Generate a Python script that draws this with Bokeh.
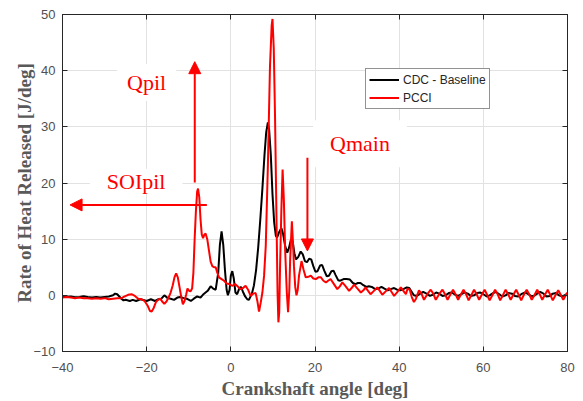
from bokeh.plotting import figure
from bokeh.models import Range1d, FixedTicker, LinearAxis, Label, Arrow, NormalHead
from bokeh.embed import file_html
from bokeh.resources import INLINE

# ---- data ----
cdc_x = [-40, -38, -37, -36, -35, -34, -33, -32, -31, -30, -29, -28, -27.5, -27, -26.5, -26, -25.5, -25,
         -24, -23.3, -22.5, -21.5, -21, -20, -19, -18, -17.2, -16.5, -15.8, -15, -14.3, -13.5, -12.7, -12,
         -11.2, -10.5, -9.5, -8.8, -8, -7.2, -6.5, -5.5, -4.8, -4.2, -3.6, -3.0, -2.6, -2.2, -1.8, -1.4,
         -1.0, -0.7, -0.3, 0.0, 0.35, 0.7, 1.1, 1.5, 2.0, 2.4, 2.9, 3.4, 3.9, 4.3, 5.0, 5.5, 6.0, 6.5,
         7.0, 7.5, 8.0, 8.4, 8.8, 9.1, 9.5, 9.9, 10.3, 10.7, 11.0, 11.5, 12.0, 12.4, 12.9, 13.4, 13.8,
         14.3, 14.7, 15.1, 15.5, 16.0, 16.6, 17.1, 17.6, 18.1, 18.6, 19.1, 19.6, 20.1, 20.6, 21.2, 21.7,
         22.2, 22.8, 23.3, 23.9, 24.4, 24.9, 25.5, 26.0, 26.8, 27.5, 28.3, 29.0, 29.6, 30.2, 30.8, 31.5,
         32.2, 32.8, 33.5, 34.3, 35.0, 35.8, 36.5, 37.3, 38.0, 38.8, 39.5, 40.3, 41.0, 41.8, 42.4, 43.0,
         43.5, 44.2, 45.0, 45.7, 46.5, 47.3, 48.0, 48.8, 49.5, 50.3, 51.0, 51.8, 52.5, 53.3, 54.0, 54.8,
         55.5, 56.3, 57.0, 57.8, 58.5, 59.3, 60.0, 60.8, 61.5, 62.3, 63.0, 63.8, 64.5, 65.3, 66.0, 66.8,
         67.5, 68.3, 69.0, 69.8, 70.5, 71.3, 72.0, 72.8, 73.5, 74.3, 75.0, 75.8, 76.5, 77.3, 78.0, 78.8,
         79.5, 80.0]
cdc_y = [-0.3, -0.2, -0.35, -0.3, -0.15, -0.3, -0.4, -0.3, -0.4, -0.3, -0.2, 0.0, 0.3, 0.2, -0.2, -0.6, -0.9, -0.8,
         -1.0, -0.8, -1.0, -0.7, -0.8, -1.0, -0.7, -1.0, -0.7, -0.6, 0.0, -0.5, -0.6, -0.8, -0.4, -0.3,
         -0.5, -0.6, -1.0, -0.6, -0.2, -0.4, 0.2, 0.8, 1.6, 1.2, 1.0, 4.0, 9.0, 11.4, 9.0, 4.5,
         1.0, 0.0, 1.0, 3.5, 4.3, 3.0, 0.5, 0.2, 1.2, 1.5, 0.6, -0.2, -0.7, -0.8, 0.3, 1.8, 4.5, 8.5,
         13.5, 19.0, 25.0, 29.0, 30.8, 29.5, 25.0, 18.0, 13.0, 10.6, 10.3, 11.3, 12.0, 11.0, 8.8, 7.6, 8.4,
         10.0, 9.5, 7.5, 6.4, 6.8, 7.8, 7.3, 6.1, 5.9, 6.5, 6.4, 5.2, 4.2, 4.3, 5.3, 5.4,
         4.4, 3.4, 3.5, 4.3, 4.4, 3.6, 2.7, 2.6, 2.9, 2.9, 2.8, 2.2, 2.0, 2.2, 2.2, 1.8,
         1.5, 1.6, 1.5, 1.1, 1.2, 1.5, 1.2, 0.9, 1.1, 1.3, 1.0, 0.9, 1.1, 1.4, 1.3, 0.6,
         0.0, -0.1, 0.3, 0.6, 0.3, -0.1, 0.1, 0.5, 0.3, -0.1, 0.0, 0.4, 0.5, 0.1, -0.1, 0.2,
         0.5, 0.3, -0.1, 0.0, 0.4, 0.5, 0.2, -0.2, 0.0, 0.4, 0.6, 0.2, -0.2, 0.0, 0.4, 0.3,
         -0.1, -0.2, 0.2, 0.5, 0.3, -0.1, -0.1, 0.3, 0.6, 0.3, -0.2, -0.1, 0.3, 0.4, 0.0, -0.2,
         0.1, 0.3]

pcci_x = [-40, -39, -38, -37, -36, -35, -34, -33, -32, -31, -30, -29, -28, -27, -26, -25.2, -24.4, -23.6,
          -22.8, -22, -21.2, -20.5, -19.8, -19.2, -18.8, -18.3, -17.8, -17.3, -16.8, -16.2, -15.8, -15.3,
          -14.8, -14.3, -13.8, -13.4, -13.0, -12.6, -12.2, -11.8, -11.4, -11.0, -10.6, -10.3, -9.9, -9.6,
          -9.2, -8.9, -8.6, -8.3, -8.0, -7.8, -7.5, -7.2, -6.9, -6.6, -6.3, -6.0, -5.6, -5.2, -4.8, -4.4,
          -4.0, -3.6, -3.2, -2.8, -2.2, -1.6, -1.0, -0.4, 0.4, 1.0, 1.6, 2.3, 2.9, 3.5, 4.1, 4.7, 5.3,
          5.9, 6.3, 6.7, 7.1, 7.5, 7.9, 8.3, 8.8, 9.3, 9.7, 9.9, 10.2, 10.5, 10.9, 11.1, 11.3, 11.5, 11.7,
          12.0, 12.3, 12.6, 12.9, 13.3, 13.6, 13.9, 14.1, 14.5, 14.8, 15.0, 15.3, 15.6, 15.9, 16.2, 16.8,
          17.3, 17.8, 18.4, 19.0, 19.6, 20.2, 20.8, 21.4, 22.0, 22.6, 23.1, 23.7, 24.5, 25.3, 25.9, 26.5,
          27.3, 28.1, 28.7, 29.3, 30.1, 30.9, 31.5, 32.0, 32.6, 33.2, 34.0, 34.8, 35.4, 36.0, 36.8, 37.6,
          38.2, 38.8, 39.6, 40.4, 41.0, 41.6, 42.0, 42.5, 43.0, 43.5, 44.0, 44.7, 45.3, 45.9, 46.7, 47.5,
          48.1, 48.7, 49.5, 50.3, 50.9, 51.5, 52.2, 52.8, 53.4, 54.0, 54.7, 55.3, 55.9, 56.5, 57.2, 57.8,
          58.4, 59.0, 59.7, 60.3, 60.9, 61.5, 62.2, 62.8, 63.4, 64.0, 64.7, 65.3, 65.9, 66.5, 67.2, 67.8,
          68.4, 69.0, 69.7, 70.3, 70.9, 71.5, 72.2, 72.8, 73.4, 74.0, 74.7, 75.3, 75.9, 76.5, 77.2, 77.8,
          78.4, 79.0, 79.6, 80.0]
pcci_y = [-0.4, -0.3, -0.4, -0.5, -0.4, -0.5, -0.5, -0.6, -0.5, -0.6, -0.5, -0.7, -0.6, -0.5, -0.5, -0.2, 0.1, 0.2,
          -0.1, -0.6, -0.7, -1.0, -1.8, -2.8, -2.9, -2.2, -1.2, -0.8, -0.6, -1.2, -1.5, -1.1,
          -0.4, 0.5, 1.8, 3.2, 3.9, 3.2, 1.5, -0.2, -1.6, -1.0, 0.2, 1.2, 0.8, 0.7,
          1.2, 4.0, 10.0, 15.0, 18.5, 19.0, 17.5, 13.5, 10.8, 10.2, 10.8, 11.0, 10.0, 8.0, 6.0, 5.2,
          5.0, 5.0, 4.0, 3.2, 2.9, 2.6, 2.1, 2.0, 1.7, 2.0, 1.6, 1.1, 1.3, 1.7, 1.0, -0.1, 0.3,
          0.4, -1.0, -2.9, -1.3, 0.5, 3.5, 8.8, 23.0, 40.7, 48.0, 49.2, 44.0, 32.0, 11.0, 0.5, -4.8, -3.0, 5.2,
          15.0, 22.4, 17.0, 8.2, 0.5, -3.0, 1.0, 6.4, 13.2, 9.0, 5.2, 1.5, 0.0, 1.0, 3.5, 6.1,
          4.5, 3.2, 3.3, 3.5, 3.0, 2.9, 3.2, 3.2, 2.6, 2.3, 2.6, 2.9, 2.0, 1.1, 1.6, 2.3,
          1.6, 0.8, 1.3, 1.9, 1.2, 0.5, 0.9, 1.4, 0.8, 0.2, 0.8, 1.4, 0.8, 0.1, 0.7, 1.3,
          0.6, -0.1, 0.6, 1.4, 0.8, 0.2, 1.2, 1.0, -0.3, -1.2, -0.6, 0.9, 0.3, -0.8, 0.2, 1.0,
          0.3, -0.8, 0.2, 1.0, 0.2, -0.8, 0.2, 1.0, 0.2, -0.8, 0.2, 1.0, 0.2, -0.9, 0.1, 1.0,
          0.2, -0.8, 0.2, 1.0, 0.1, -0.9, 0.1, 1.0, 0.2, -0.9, 0.1, 1.0, 0.2, -0.8, 0.2, 1.0,
          0.1, -0.9, 0.2, 1.0, 0.2, -0.8, 0.1, 1.0, 0.2, -0.8, 0.2, 1.0, 0.1, -0.9, 0.1, 0.9,
          0.1, -0.8, 0.0, 0.5]

x_ticks = [-40, -20, 0, 20, 40, 60, 80]
y_ticks = [-10, 0, 10, 20, 30, 40, 50]
series_names = ["CDC - Baseline", "PCCI"]

# annotation texts and anchor points (data units)
notes = [("Qpil", -20.0, 37.9, (10, 6)),
         ("SOIpil", -22.5, 20.3, (17, 0)),
         ("Qmain", 30.7, 27.0, (17, 11))]
arrows = [(-8.57, 20.1, -8.57, 41.6),
          (-5.7, 16.1, -38.2, 16.1),
          (18.2, 24.5, 18.2, 7.9)]

RED = "#ff0000"
AX = "#262626"

p = figure(width=583, height=401, x_range=Range1d(-40, 80), y_range=Range1d(-10, 50),
           output_backend="svg", toolbar_location=None,
           min_border_left=62, min_border_right=16, min_border_top=14, min_border_bottom=49)
p.background_fill_color = "white"
p.border_fill_color = "white"
p.outline_line_color = AX
p.outline_line_width = 1

for g, t in ((p.xgrid, x_ticks), (p.ygrid, y_ticks)):
    g.ticker = FixedTicker(ticks=t)
    g.grid_line_color = "#e2e2e2"
    g.grid_line_width = 1

for ax, t in ((p.xaxis, x_ticks), (p.yaxis, y_ticks)):
    ax.ticker = FixedTicker(ticks=t)
    ax.major_tick_in = 5
    ax.major_tick_out = 0
    ax.minor_tick_line_color = None
    ax.major_tick_line_color = AX
    ax.axis_line_color = AX
    ax.major_label_text_font = "Liberation Sans"
    ax.major_label_text_font_size = "13px"
    ax.major_label_text_color = "#505050"

p.xaxis.major_label_standoff = 11
p.yaxis.major_label_standoff = 7

for ax, lab, st in ((p.xaxis, "Crankshaft angle [deg]", 3), (p.yaxis, "Rate of Heat Released [J/deg]", -5)):
    ax.axis_label = lab
    ax.axis_label_text_font = "Liberation Serif"
    ax.axis_label_text_font_style = "bold"
    ax.axis_label_text_font_size = "19px"
    ax.axis_label_text_color = "#595959"
    ax.axis_label_standoff = st

for loc, t in (("above", x_ticks), ("right", y_ticks)):
    extra = LinearAxis(ticker=FixedTicker(ticks=t), major_tick_in=5, major_tick_out=0,
                       minor_tick_line_color=None, major_tick_line_color=AX, axis_line_color=AX,
                       major_label_text_font_size="1px", major_label_text_color=None,
                       major_label_standoff=0)
    p.add_layout(extra, loc)

p.line(cdc_x, cdc_y, line_color="black", line_width=2, legend_label=series_names[0])
p.line(pcci_x, pcci_y, line_color=RED, line_width=2, legend_label=series_names[1])

for txt, tx, ty, pad in notes:
    p.add_layout(Label(x=tx, y=ty, text=txt, text_align="center", text_baseline="middle",
                       text_font="Liberation Serif", text_font_size="22px", text_color=RED,
                       background_fill_color="white", background_fill_alpha=1.0, padding=pad))

for xs, ys, xe, ye in arrows:
    p.add_layout(Arrow(x_start=xs, y_start=ys, x_end=xe, y_end=ye, line_color=RED, line_width=2,
                       end=NormalHead(size=12, fill_color=RED, line_color=RED, line_width=1)))

lg = p.legend[0]
lg.location = (303, 242)
lg.border_line_color = AX
lg.border_line_width = 1
lg.background_fill_color = "white"
lg.background_fill_alpha = 1.0
lg.label_text_font = "Liberation Sans"
lg.label_text_font_size = "12px"
lg.label_text_color = AX
lg.padding = 3
lg.spacing = 3
lg.margin = 0
lg.label_height = 15
lg.glyph_height = 15
lg.glyph_width = 30
lg.label_standoff = 4

open("out.html", "w").write(file_html(p, INLINE))
